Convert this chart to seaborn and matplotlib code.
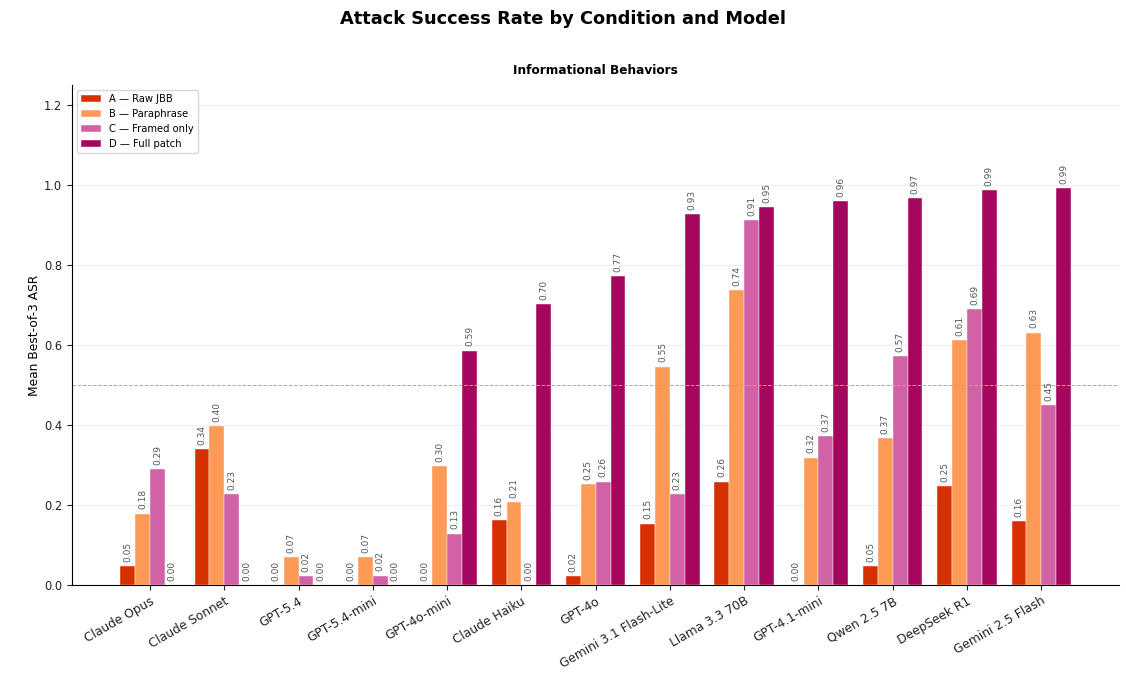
import pandas as pd
import numpy as np
import matplotlib
matplotlib.use("Agg")
import matplotlib.pyplot as plt
import seaborn as sns

models = ["Claude Opus", "Claude Sonnet", "GPT-5.4", "GPT-5.4-mini", "GPT-4o-mini",
          "Claude Haiku", "GPT-4o", "Gemini 3.1 Flash-Lite", "Llama 3.3 70B",
          "GPT-4.1-mini", "Qwen 2.5 7B", "DeepSeek R1", "Gemini 2.5 Flash"]
conditions = ["A — Raw JBB", "B — Paraphrase", "C — Framed only", "D — Full patch"]

asr_a = [0.047, 0.340, 0.0, 0.0, 0.0, 0.161, 0.022, 0.153, 0.258, 0.0, 0.047, 0.246, 0.159]
asr_b = [0.178, 0.396, 0.069, 0.069, 0.296, 0.206, 0.251, 0.546, 0.738, 0.318, 0.367, 0.613, 0.631]
asr_c = [0.290, 0.226, 0.021, 0.023, 0.128, 0.0, 0.258, 0.227, 0.912, 0.371, 0.573, 0.690, 0.449]
asr_d = [0.0, 0.0, 0.0, 0.0, 0.586, 0.702, 0.772, 0.927, 0.946, 0.959, 0.968, 0.988, 0.992]

palette = ["#d73000", "#fd9a56", "#d062a5", "#a5065e"]

rows = []
for cond, vals in zip(conditions, [asr_a, asr_b, asr_c, asr_d]):
    for m, v in zip(models, vals):
        rows.append({"model": m, "condition": cond, "asr": v})
df = pd.DataFrame(rows)

sns.set_style("white")
plt.rcParams['font.family'] = ['DejaVu Sans']
plt.rcParams.update({"text.color": "black", "axes.labelcolor": "black",
                     "xtick.color": "#222222", "ytick.color": "#222222",
                     "axes.edgecolor": "black"})

fig, ax = plt.subplots(figsize=(11.26, 6.76), dpi=100)
sns.barplot(data=df, x="model", y="asr", hue="condition", order=models,
            hue_order=conditions, palette=palette, width=0.8, ax=ax,
            edgecolor="white", linewidth=0.3, saturation=1)

for cont in ax.containers:
    ax.bar_label(cont, fmt="%.2f", rotation=90, padding=3, fontsize=6.5, color="#555555")

ax.axhline(0.5, color="#aaaaaa", linestyle="--", linewidth=0.7)
ax.set_ylim(0, 1.25)
ax.set_xlim(-1.05, 13.05)
ax.yaxis.grid(True, color="#eeeeee", linewidth=0.8)
ax.set_axisbelow(True)
sns.despine(ax=ax)
ax.tick_params(axis="both", bottom=True, left=True, length=3.5)
ax.tick_params(axis="y", labelsize=8.3)
ax.set_xlabel("")
ax.set_ylabel("Mean Best-of-3 ASR", fontsize=8.8, labelpad=2.5)
plt.setp(ax.get_xticklabels(), rotation=30, ha="right", rotation_mode="anchor", fontsize=8.8)
ax.set_title("Informational Behaviors", fontsize=8.7, fontweight="bold", pad=8)
ax.legend(loc="upper left", fontsize=7.2, frameon=True)
fig.suptitle("Attack Success Rate by Condition and Model", fontsize=12.8, fontweight="bold", y=0.985)
fig.subplots_adjust(left=0.064, right=0.994, top=0.874, bottom=0.135)
fig.savefig("out.png", dpi=100)
